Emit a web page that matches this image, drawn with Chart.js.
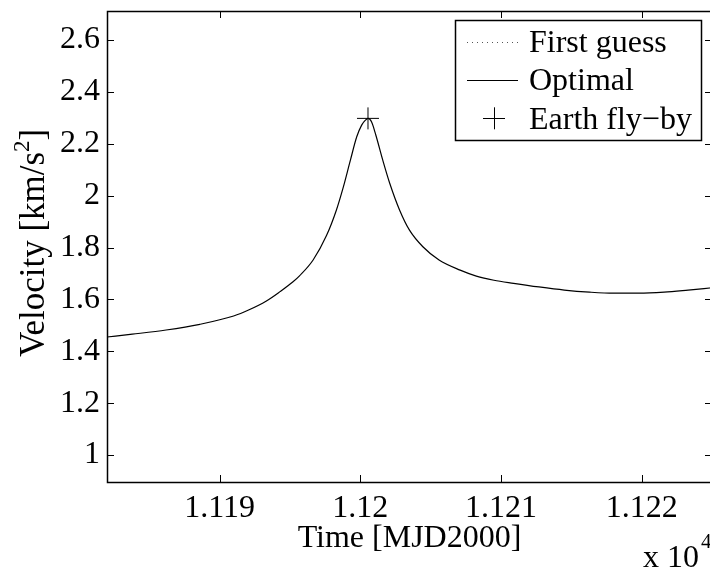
<!DOCTYPE html>
<html>
<head>
<meta charset="utf-8">
<script src="https://cdn.jsdelivr.net/npm/chart.js@4.4.1/dist/chart.umd.min.js"></script>
<style>
  html, body { margin: 0; padding: 0; background: #fff; overflow: hidden; }
  #wrap { width: 710px; height: 569px; overflow: hidden; }
</style>
</head>
<body>
<div id="wrap"><canvas id="myChart" width="712" height="569"></canvas></div>
<script>
// time in MJD2000 days, velocity in km/s^2
var timeDays = [11182, 11183.8, 11186.2, 11188.6, 11191.0, 11192.1, 11193.3, 11194.3, 11195.2, 11195.7,
                11196.65, 11197.6, 11198.3, 11198.8, 11199.3, 11199.75, 11200.1, 11200.35, 11200.55, 11200.8,
                11201.1, 11201.6, 11202.1, 11202.8, 11203.5, 11204.45, 11205.6, 11207.1, 11208.25, 11209.5,
                11210.9, 11212.7, 11214.5, 11216.3, 11218.0, 11219.8, 11221.6, 11223.3, 11225];
var velocity = [1.455, 1.466, 1.482, 1.504, 1.536, 1.560, 1.593, 1.630, 1.667, 1.692,
                1.752, 1.846, 1.944, 2.034, 2.137, 2.227, 2.272, 2.290, 2.298, 2.285,
                2.235, 2.137, 2.047, 1.944, 1.867, 1.803, 1.752, 1.713, 1.690, 1.674,
                1.662, 1.648, 1.636, 1.628, 1.624, 1.624, 1.628, 1.636, 1.645];
var firstGuess = [];
var flybyTime = [11200.55];
var flybyVelocity = [2.298];

var xTicks = [11190, 11200, 11210, 11220];
var xTickLabels = ['1.119', '1.12', '1.121', '1.122'];
var yTicks = [1, 1.2, 1.4, 1.6, 1.8, 2, 2.2, 2.4, 2.6];
var yTickLabels = ['1', '1.2', '1.4', '1.6', '1.8', '2', '2.2', '2.4', '2.6'];

var serif = "'Liberation Serif', 'Times New Roman', serif";
var fontSize = 32;

function pairs(xs, ys) {
    return xs.map(function (x, i) { return { x: x, y: ys[i] }; });
}

// box, inward ticks on all four sides, y label, exponent, legend
var matlabAxes = {
    id: 'matlabAxes',
    afterDraw: function (chart) {
        var ctx = chart.ctx;
        var a = chart.chartArea;
        var xs = chart.scales.x, ys = chart.scales.y;
        var tl = 7;
        ctx.save();
        ctx.strokeStyle = '#000';
        ctx.lineWidth = 1.5;
        ctx.strokeRect(a.left + 0.5, a.top + 0.5, a.right - a.left, a.bottom - a.top);

        ctx.lineWidth = 1;
        ctx.beginPath();
        xTicks.forEach(function (v) {
            var px = Math.round(xs.getPixelForValue(v)) + 0.5;
            ctx.moveTo(px, a.bottom); ctx.lineTo(px, a.bottom - tl);
            ctx.moveTo(px, a.top); ctx.lineTo(px, a.top + tl);
        });
        yTicks.forEach(function (v) {
            var py = Math.round(ys.getPixelForValue(v)) + 0.5;
            ctx.moveTo(a.left, py); ctx.lineTo(a.left + tl, py);
            ctx.moveTo(a.right, py); ctx.lineTo(a.right - tl, py);
        });
        ctx.stroke();

        // y axis label with superscript
        ctx.fillStyle = '#000';
        ctx.translate(43.5, 357);
        ctx.rotate(-Math.PI / 2);
        ctx.textBaseline = 'alphabetic';
        ctx.textAlign = 'left';
        ctx.font = '35px ' + serif;
        var main = 'Velocity [km/s';
        ctx.fillText(main, 0, 0);
        var w = ctx.measureText(main).width;
        ctx.font = '23px ' + serif;
        ctx.fillText('2', w, -15);
        var w2 = ctx.measureText('2').width;
        ctx.font = '35px ' + serif;
        ctx.fillText(']', w + w2, 0);
        ctx.restore();

        // x axis exponent
        ctx.save();
        ctx.fillStyle = '#000';
        ctx.textBaseline = 'alphabetic';
        ctx.font = fontSize + 'px ' + serif;
        ctx.fillText('x 10', 643, 567);
        ctx.font = '21px ' + serif;
        ctx.fillText('4', 701, 548);
        ctx.restore();

        // legend
        ctx.save();
        var lx = 455.5, ly = 20.5, lw = 246, lh = 120;
        ctx.fillStyle = '#fff';
        ctx.fillRect(lx, ly, lw, lh);
        ctx.strokeStyle = '#000';
        ctx.lineWidth = 1.5;
        ctx.strokeRect(lx, ly, lw, lh);
        var rows = [41.7, 80, 118.3];
        ctx.font = fontSize + 'px ' + serif;
        ctx.textBaseline = 'middle';
        chart.data.datasets.forEach(function (ds, i) {
            var y = rows[i];
            ctx.strokeStyle = ds.borderDash ? '#555' : '#000';
            ctx.lineWidth = 1;
            ctx.setLineDash(ds.borderDash || []);
            if (ds.showLine === false) {
                var r = ds.pointRadius;
                ctx.beginPath();
                ctx.moveTo(494 - r, Math.round(y) + 0.5); ctx.lineTo(494 + r, Math.round(y) + 0.5);
                ctx.moveTo(494.5, y - r); ctx.lineTo(494.5, y + r);
                ctx.stroke();
            } else {
                ctx.beginPath();
                ctx.moveTo(467, Math.round(y) + 0.5); ctx.lineTo(518, Math.round(y) + 0.5);
                ctx.stroke();
            }
            ctx.setLineDash([]);
            ctx.fillStyle = '#000';
            ctx.fillText(ds.label, 529, y + 2);
        });
        ctx.restore();
    }
};

var ctx = document.getElementById('myChart').getContext('2d');
var chart = new Chart(ctx, {
    type: 'line',
    data: {
        datasets: [{
            label: 'First guess',
            data: pairs(firstGuess, firstGuess),
            borderColor: '#000',
            borderWidth: 1,
            borderDash: [1, 4],
            pointRadius: 0
        }, {
            label: 'Optimal',
            data: pairs(timeDays, velocity),
            borderColor: '#000',
            borderWidth: 1.2,
            pointRadius: 0,
            cubicInterpolationMode: 'monotone'
        }, {
            label: 'Earth fly\u2212by',
            data: pairs(flybyTime, flybyVelocity),
            showLine: false,
            pointStyle: 'cross',
            pointRadius: 11,
            pointBorderWidth: 1,
            pointBorderColor: '#000',
            pointBackgroundColor: '#000'
        }]
    },
    options: {
        responsive: false,
        devicePixelRatio: 1,
        animation: false,
        layout: { autoPadding: false, padding: { top: 11, left: 0, right: 0, bottom: 0 } },
        plugins: { legend: { display: false }, tooltip: { enabled: false } },
        scales: {
            x: {
                type: 'linear',
                min: 11182,
                max: 11225,
                afterFit: function (s) {
                    s.height = 87;
                    s.paddingLeft = 0; s.paddingRight = 0;
                },
                afterBuildTicks: function (s) { s.ticks = xTicks.map(function (v) { return { value: v }; }); },
                grid: { display: false, drawTicks: false },
                border: { display: false },
                ticks: {
                    padding: 7,
                    color: '#000',
                    font: { family: serif, size: fontSize },
                    maxRotation: 0,
                    callback: function (v) { return xTickLabels[xTicks.indexOf(v)]; }
                },
                title: {
                    display: true,
                    text: 'Time [MJD2000]',
                    color: '#000',
                    font: { family: serif, size: fontSize },
                    padding: { top: 0, bottom: 11 }
                }
            },
            y: {
                min: 0.896,
                max: 2.712,
                afterFit: function (s) {
                    s.width = 107;
                    s.paddingTop = 0; s.paddingBottom = 0;
                },
                afterBuildTicks: function (s) { s.ticks = yTicks.map(function (v) { return { value: v }; }); },
                grid: { display: false, drawTicks: false },
                border: { display: false },
                ticks: {
                    padding: 7,
                    color: '#000',
                    font: { family: serif, size: fontSize },
                    callback: function (v) { return yTickLabels[yTicks.indexOf(v)]; }
                }
            }
        }
    },
    plugins: [matlabAxes]
});
</script>
</body>
</html>
